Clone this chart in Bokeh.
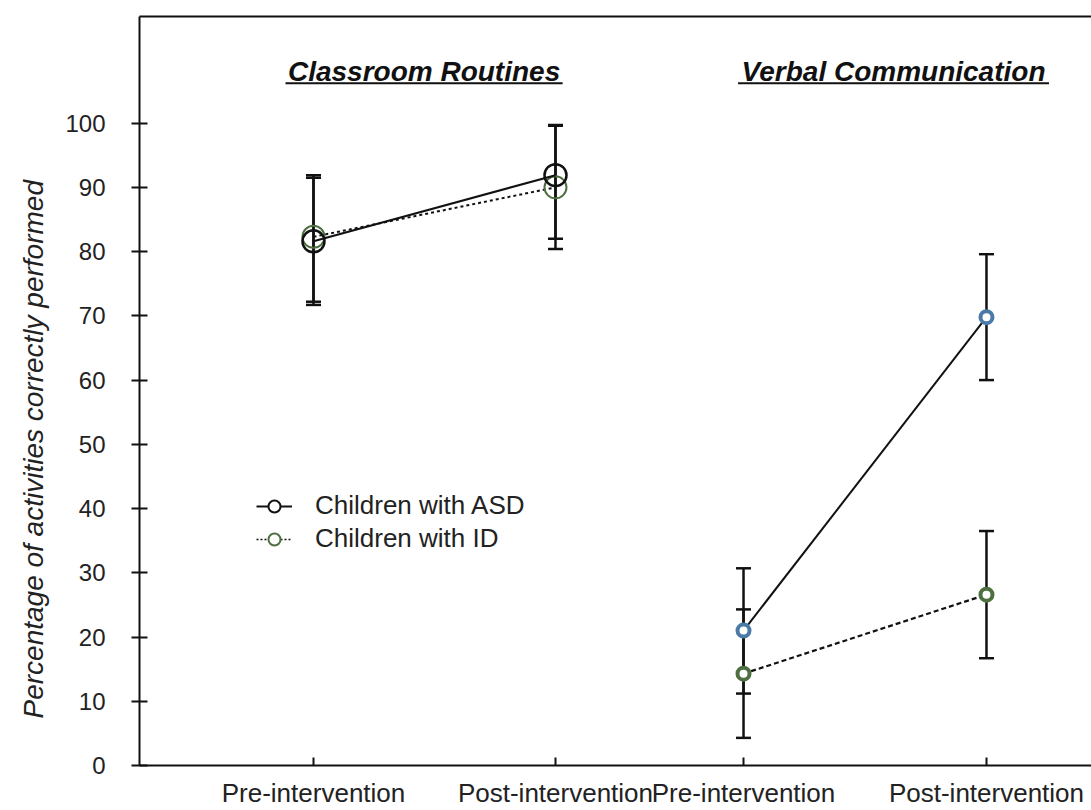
from bokeh.plotting import figure
from bokeh.models import (ColumnDataSource, Whisker, TeeHead, FixedTicker, LinearAxis,
                          Legend, LegendItem, Label, Range1d, Title)
from bokeh.embed import file_html
from bokeh.resources import INLINE

FONT = "Liberation Sans"

# ---- data ----
x_labels = ["Pre-intervention", "Post-intervention", "Pre-intervention", "Post-intervention"]
x_pos = [1.0, 2.0, 2.777, 3.781]
panel_titles = ["Classroom Routines", "Verbal Communication"]
title_x = [1.457, 3.397]
title_halfwidth = [0.5725, 0.6425]
y_label = "Percentage of activities correctly performed"

# Classroom routines (first two positions)
cr_x = x_pos[:2]
cr_asd = [81.6, 91.9]
cr_asd_lower = [72.2, 82.0]
cr_asd_upper = [91.9, 99.7]
cr_id = [82.3, 90.0]
cr_id_lower = [71.7, 80.4]
cr_id_upper = [91.5, 99.6]

# Verbal communication (last two positions)
vc_x = x_pos[2:]
vc_asd = [21.0, 69.8]
vc_asd_lower = [11.2, 60.0]
vc_asd_upper = [30.7, 79.6]
vc_id = [14.3, 26.6]
vc_id_lower = [4.3, 16.7]
vc_id_upper = [24.3, 36.5]

y_ticks = list(range(0, 101, 10))

BLACK = "#111111"
GREEN = "#4e7040"
BLUE = "#4a7aa6"
TEXT = "#222222"

p = figure(width=1091, height=810, output_backend="svg", toolbar_location=None,
           x_range=Range1d(0.281, 4.215), y_range=Range1d(0, 116.6),
           min_border_left=139, min_border_right=0, min_border_top=16, min_border_bottom=43)
p.outline_line_color = None
p.grid.visible = False
p.background_fill_color = "white"

# axes
p.yaxis.ticker = FixedTicker(ticks=y_ticks)
p.yaxis.major_tick_in = 8
p.yaxis.major_tick_out = 8
p.yaxis.minor_tick_line_color = None
p.yaxis.major_label_standoff = 26
p.yaxis.major_label_text_font_size = "24px"

p.xaxis.ticker = FixedTicker(ticks=x_pos)
p.xaxis.major_label_overrides = {x: lab for x, lab in zip(x_pos, x_labels)}
p.xaxis.major_tick_in = 8
p.xaxis.major_tick_out = 0
p.xaxis.minor_tick_line_color = None
p.xaxis.major_label_standoff = 12
p.xaxis.major_label_text_font_size = "26px"

for ax in (p.xaxis, p.yaxis):
    ax.axis_line_width = 2
    ax.major_tick_line_width = 2
    ax.axis_line_color = BLACK
    ax.major_tick_line_color = BLACK
    ax.major_label_text_font = FONT
    ax.major_label_text_color = TEXT

top = LinearAxis(axis_line_width=2, axis_line_color=BLACK, major_tick_line_color=None,
                 minor_tick_line_color=None, major_label_text_font_size="0px",
                 major_label_text_color=None, major_label_standoff=0)
p.add_layout(top, "above")

# y-axis title
p.add_layout(Title(text=y_label, align="left", offset=47, standoff=28,
                   text_font=FONT, text_font_size="28px", text_font_style="italic",
                   text_color=TEXT), "left")

# panel titles with underline
for tx, tt, hw in zip(title_x, panel_titles, title_halfwidth):
    p.add_layout(Label(x=tx, y=108.1, text=tt, text_align="center", text_baseline="middle",
                       text_font=FONT, text_font_size="28px", text_font_style="bold italic",
                       text_color="#111111"))
    p.segment(x0=[tx - hw], x1=[tx + hw], y0=[106.2], y1=[106.2], line_color="#111111", line_width=2)

def whiskers(xs, lo, hi):
    src = ColumnDataSource(dict(x=xs, lower=lo, upper=hi))
    w = Whisker(base="x", lower="lower", upper="upper", source=src,
                line_color=BLACK, line_width=2.5,
                upper_head=TeeHead(size=15, line_width=2.5, line_color=BLACK),
                lower_head=TeeHead(size=15, line_width=2.5, line_color=BLACK))
    p.add_layout(w)

# Classroom routines
whiskers(cr_x, cr_id_lower, cr_id_upper)
whiskers(cr_x, cr_asd_lower, cr_asd_upper)
p.line(cr_x, cr_id, line_color=BLACK, line_width=2, line_dash="3 3")
p.scatter(cr_x, cr_id, size=22, marker="circle", fill_color=None, line_color=GREEN, line_width=2)
p.line(cr_x, cr_asd, line_color=BLACK, line_width=2)
p.scatter(cr_x, cr_asd, size=22, marker="circle", fill_color=None, line_color=BLACK, line_width=2.5)

# Verbal communication
whiskers(vc_x, vc_id_lower, vc_id_upper)
whiskers(vc_x, vc_asd_lower, vc_asd_upper)
p.line(vc_x, vc_id, line_color=BLACK, line_width=2.2, line_dash="5 3")
p.line(vc_x, vc_asd, line_color=BLACK, line_width=2)
p.scatter(vc_x, vc_id, size=12, marker="circle", fill_color="white", line_color=GREEN, line_width=4)
p.scatter(vc_x, vc_asd, size=12, marker="circle", fill_color="white", line_color=BLUE, line_width=4)

# legend proxies (hidden renderers of the real series, styled like the legend keys)
la = p.line(cr_x, cr_asd, line_color=BLACK, line_width=2, visible=False)
ma = p.scatter(cr_x, cr_asd, size=11, marker="circle", fill_color="white", line_color=BLACK,
               line_width=2, visible=False)
li = p.line(cr_x, cr_id, line_color=BLACK, line_width=1.5, line_dash="2 2", visible=False)
mi = p.scatter(cr_x, cr_id, size=11, marker="circle", fill_color="white", line_color=GREEN,
               line_width=2, visible=False)
legend = Legend(items=[LegendItem(label="Children with ASD", renderers=[la, ma]),
                       LegendItem(label="Children with ID", renderers=[li, mi])],
                location=(117, 211), orientation="vertical",
                background_fill_alpha=0, border_line_color=None,
                inactive_fill_alpha=0,
                label_text_font=FONT, label_text_font_size="26px", label_text_color=TEXT,
                glyph_width=36, glyph_height=30, label_height=30, spacing=2, padding=0, margin=0,
                label_standoff=23)
p.add_layout(legend, "center")

open("out.html", "w").write(file_html(p, INLINE))
